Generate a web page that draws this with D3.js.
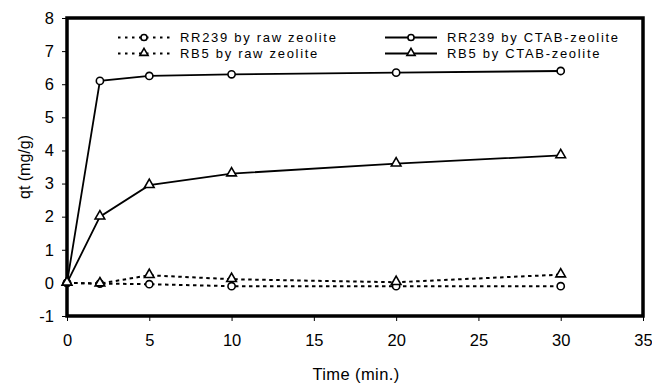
<!DOCTYPE html>
<html>
<head>
<meta charset="utf-8">
<script src="https://cdn.jsdelivr.net/npm/d3@7"></script>
<style>
  body { margin: 0; background: #fff; }
  svg { font-family: "Liberation Sans", Arial, sans-serif; }
</style>
</head>
<body>
<div class="graphic"></div>
<script>
// time points (min.)
var times = [0, 2, 5, 10, 20, 30];

// qt values (mg/g) for each series
var rr239Raw = [0, -0.02, -0.04, -0.1, -0.1, -0.1];
var rr239Ctab = [0, 6.1, 6.25, 6.3, 6.35, 6.4];
var rb5Raw = [0, -0.02, 0.23, 0.11, 0.02, 0.25];
var rb5Ctab = [0, 2.0, 2.95, 3.3, 3.6, 3.85];

var xTicks = [0, 5, 10, 15, 20, 25, 30, 35];
var yTicks = [-1, 0, 1, 2, 3, 4, 5, 6, 7, 8];

var series = [
  { name: "RR239 by raw zeolite", values: rr239Raw, dashed: true, marker: "circle" },
  { name: "RR239 by CTAB-zeolite", values: rr239Ctab, dashed: false, marker: "circle" },
  { name: "RB5 by raw zeolite", values: rb5Raw, dashed: true, marker: "triangle" },
  { name: "RB5 by CTAB-zeolite", values: rb5Ctab, dashed: false, marker: "triangle" }
];

var width = 652, height = 383;
var margin = { top: 18, right: 9, bottom: 67, left: 67 };

var svg = d3.select(".graphic").append("svg")
  .attr("width", width)
  .attr("height", height);

var x = d3.scaleLinear().domain([0, 35]).range([margin.left, width - margin.right]);
var y = d3.scaleLinear().domain([-1, 8]).range([height - margin.bottom, margin.top]);

var fmt = function(d) { return String(d); };

// axes
var xAxis = svg.append("g")
  .attr("transform", "translate(0," + y(-1) + ")")
  .call(d3.axisBottom(x).tickValues(xTicks).tickFormat(fmt).tickSize(5).tickPadding(13));
var yAxis = svg.append("g")
  .attr("transform", "translate(" + x(0) + ",0)")
  .call(d3.axisLeft(y).tickValues(yTicks).tickFormat(fmt).tickSize(5).tickPadding(8));

[xAxis, yAxis].forEach(function(a) {
  a.select(".domain").remove();
  a.selectAll("line").attr("stroke", "#000");
  a.selectAll("text").attr("font-size", 16.5).attr("fill", "#000")
    .attr("font-family", "Liberation Sans, Arial, sans-serif");
});

// plot frame
svg.append("rect")
  .attr("x", x(0))
  .attr("y", y(8))
  .attr("width", x(35) - x(0))
  .attr("height", y(-1) - y(8))
  .attr("fill", "none")
  .attr("stroke", "#000")
  .attr("stroke-width", 3.5);

// axis titles
svg.append("text")
  .attr("x", (x(0) + x(35)) / 2 + 1)
  .attr("y", 380)
  .attr("text-anchor", "middle")
  .attr("font-size", 16.5)
  .attr("letter-spacing", 0.4)
  .text("Time (min.)");

svg.append("text")
  .attr("transform", "translate(30," + ((y(8) + y(-1)) / 2) + ") rotate(-90)")
  .attr("text-anchor", "middle")
  .attr("font-size", 16)
  .text("qt (mg/g)");

var line = d3.line()
  .x(function(d, i) { return x(times[i]); })
  .y(function(d) { return y(d); });

function drawMarker(g, type, cx, cy, scale) {
  scale = scale || 1;
  if (type === "circle") {
    g.append("circle")
      .attr("cx", cx).attr("cy", cy).attr("r", 3.6 * scale)
      .attr("fill", "#fff").attr("stroke", "#000").attr("stroke-width", 1.6);
  } else {
    g.append("path")
      .attr("d", d3.symbol().type(d3.symbolTriangle).size(40 * scale * scale)())
      .attr("transform", "translate(" + cx + "," + (cy - 0.5) + ")")
      .attr("fill", "#fff").attr("stroke", "#000").attr("stroke-width", 1.6);
  }
}

var plot = svg.append("g");

series.forEach(function(s) {
  plot.append("path")
    .datum(s.values)
    .attr("d", line)
    .attr("fill", "none")
    .attr("stroke", "#000")
    .attr("stroke-width", s.dashed ? 2 : 1.8)
    .attr("stroke-dasharray", s.dashed ? "3.5,3.5" : null);
});

series.forEach(function(s) {
  s.values.forEach(function(v, i) {
    drawMarker(plot, s.marker, x(times[i]), y(v));
  });
});

// legend
var legendPos = [
  { lx: 118, ly: 37.5 },
  { lx: 385, ly: 37.5 },
  { lx: 118, ly: 53.5 },
  { lx: 385, ly: 53.5 }
];

series.forEach(function(s, i) {
  var p = legendPos[i];
  var g = svg.append("g");
  g.append("line")
    .attr("x1", p.lx).attr("x2", p.lx + 52)
    .attr("y1", p.ly).attr("y2", p.ly)
    .attr("stroke", "#000")
    .attr("stroke-width", s.dashed ? 2.2 : 1.8)
    .attr("stroke-dasharray", s.dashed ? "2.5,4.5" : null);
  drawMarker(g, s.marker, p.lx + 26, p.ly, 0.85);
  g.append("text")
    .attr("x", p.lx + 62)
    .attr("y", p.ly + 4.5)
    .attr("font-size", 13)
    .attr("letter-spacing", 1.7)
    .text(s.name);
});
</script>
</body>
</html>
